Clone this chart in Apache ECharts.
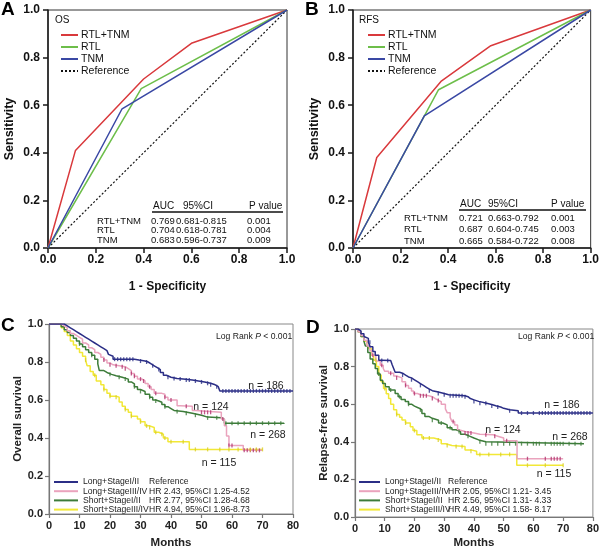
<!DOCTYPE html>
<html>
<head>
<meta charset="utf-8">
<script src="https://cdn.jsdelivr.net/npm/echarts@6/dist/echarts.min.js"></script>
<style>
html,body{margin:0;padding:0;background:#fff;}
#chart{width:602px;height:550px;}
</style>
</head>
<body>
<div id="chart"></div>
<script>
// ---------------- ROC data ----------------
const rocNames = ['RTL+TNM', 'RTL', 'TNM', 'Reference'];
const rocA_RTLTNM = [[0,0],[0.115,0.41],[0.40,0.71],[0.60,0.86],[1,1]];
const rocA_RTL    = [[0,0],[0.39,0.67],[1,1]];
const rocA_TNM    = [[0,0],[0.31,0.585],[1,1]];
const rocB_RTLTNM = [[0,0],[0.10,0.38],[0.37,0.70],[0.58,0.85],[1,1]];
const rocB_RTL    = [[0,0],[0.36,0.665],[1,1]];
const rocB_TNM    = [[0,0],[0.30,0.555],[1,1]];
const rocRef      = [[0,0],[1,1]];

const tblHeader = ['AUC', '95%CI', 'P value'];
const tblRows   = ['RTL+TNM', 'RTL', 'TNM'];
const aucA = ['0.769', '0.704', '0.683'];
const ciA  = ['0.681-0.815', '0.618-0.781', '0.596-0.737'];
const pA   = ['0.001', '0.004', '0.009'];
const aucB = ['0.721', '0.687', '0.665'];
const ciB  = ['0.663-0.792', '0.604-0.745', '0.584-0.722'];
const pB   = ['0.001', '0.003', '0.008'];

// ---------------- KM data ----------------
const kmNames = ['Long+StageI/II', 'Long+StageIII/IV', 'Short+StageI/II', 'Short+StageIII/IV'];
const hrC = ['Reference', 'HR 2.43, 95%CI 1.25-4.52', 'HR 2.77, 95%CI 1.28-4.68', 'HR 4.94, 95%CI 1.96-8.73'];
const hrD = ['Reference', 'HR 2.05, 95%CI 1.21- 3.45', 'HR 2.56, 95%CI 1.31- 4.33', 'HR 4.49, 95%CI 1.58- 8.17'];
const nLabels = ['n = 186', 'n = 124', 'n = 268', 'n = 115'];

const kmC_LongI = [[0,1],[4,1],[5,0.99],[6,0.98],[7,0.97],[8,0.96],[9,0.95],[10,0.94],[11,0.93],[12,0.92],[13,0.91],[14,0.90],[15,0.89],[16,0.88],[17,0.87],[18,0.86],[19,0.85],[19.5,0.84],[20,0.83],[21,0.815],[28,0.81],[29.5,0.805],[31.5,0.80],[32.5,0.79],[33.5,0.78],[34.5,0.77],[35.5,0.76],[36.5,0.745],[37.5,0.73],[38.5,0.72],[40,0.713],[42,0.71],[44,0.705],[47,0.70],[49,0.695],[51,0.688],[53,0.68],[54.5,0.67],[55.5,0.66],[56,0.648],[80,0.648]];
const kmC_LongIII = [[0,1],[3,1],[4,0.99],[5,0.98],[6,0.965],[7,0.95],[8,0.94],[9,0.93],[10,0.92],[11,0.90],[12,0.89],[13,0.875],[14,0.865],[15,0.85],[16,0.84],[17,0.825],[18,0.81],[19,0.795],[20,0.785],[21,0.78],[23,0.775],[25,0.765],[26,0.755],[27,0.74],[28,0.725],[29,0.71],[30.5,0.70],[31.5,0.687],[32.5,0.67],[33.5,0.655],[34.5,0.635],[37,0.63],[38,0.615],[39,0.60],[42,0.57],[43,0.567],[47,0.545],[48,0.535],[56.5,0.50],[57.5,0.465],[58.2,0.41],[59,0.36],[63.7,0.335],[70,0.335]];
const kmC_ShortI = [[0,1],[3,1],[4,0.985],[5,0.97],[6,0.955],[7,0.94],[8,0.925],[9,0.91],[10,0.895],[11,0.88],[12,0.865],[13,0.85],[14,0.835],[15,0.815],[16,0.79],[16.5,0.755],[18,0.745],[19,0.735],[20.5,0.728],[22,0.72],[24,0.71],[26,0.695],[27,0.685],[28,0.67],[29,0.655],[30,0.645],[31.5,0.63],[33,0.615],[34,0.60],[35,0.595],[36,0.588],[37,0.576],[38,0.565],[39,0.555],[40,0.545],[41,0.54],[44,0.53],[47,0.52],[50,0.51],[52,0.506],[56.5,0.498],[57.5,0.478],[77,0.474]];
const kmC_ShortIII = [[0,1],[3,1],[4,0.98],[5,0.96],[6,0.94],[7,0.91],[8,0.89],[9,0.87],[10,0.85],[11,0.83],[12,0.81],[12.5,0.78],[13.5,0.75],[14.5,0.73],[15.5,0.70],[17,0.68],[18,0.655],[19,0.635],[20,0.62],[22,0.615],[23,0.59],[24,0.567],[25,0.55],[26,0.535],[27,0.515],[29,0.50],[30,0.485],[31.5,0.464],[33,0.455],[34.5,0.43],[36,0.42],[37.5,0.40],[39,0.38],[46,0.34],[70,0.34]];

const kmD_LongI = [[0,1],[1,0.99],[2,0.975],[3,0.96],[3.5,0.95],[4.5,0.93],[5.1,0.905],[6,0.88],[6.8,0.86],[8,0.834],[9,0.832],[12,0.83],[12.5,0.81],[13,0.79],[13.5,0.77],[15,0.765],[16,0.755],[17,0.745],[18,0.74],[19,0.73],[20,0.72],[21,0.71],[22,0.70],[23,0.69],[24,0.68],[25,0.672],[26,0.665],[28,0.657],[30,0.65],[31.5,0.645],[37,0.64],[38,0.63],[38.8,0.623],[40,0.615],[41.6,0.605],[44.3,0.598],[46,0.59],[47.6,0.585],[49,0.578],[50,0.57],[52,0.565],[54.9,0.553],[80,0.553]];
const kmD_LongIII = [[0,1],[1,0.985],[2,0.965],[3,0.94],[4,0.91],[5,0.885],[5.7,0.86],[7,0.83],[8.5,0.807],[9.5,0.79],[10,0.775],[11.3,0.764],[13,0.75],[14,0.74],[15.8,0.72],[17,0.70],[18,0.685],[19,0.67],[19.7,0.657],[21,0.65],[22,0.645],[24.8,0.64],[26,0.63],[27,0.62],[28.1,0.614],[29,0.60],[30.4,0.575],[31,0.555],[32,0.53],[32.6,0.508],[33.5,0.49],[34.5,0.465],[35,0.455],[37,0.447],[40,0.44],[42,0.437],[46.5,0.43],[48,0.42],[50,0.405],[54.5,0.31],[70,0.31]];
const kmD_ShortI = [[0,1],[1,0.985],[2,0.96],[3,0.935],[3.5,0.91],[4.3,0.875],[5.1,0.84],[6,0.815],[6.8,0.79],[7.6,0.76],[8.5,0.728],[9.3,0.71],[10.2,0.693],[11.5,0.675],[13.5,0.657],[14.5,0.64],[15.5,0.625],[16.9,0.614],[18,0.60],[19,0.59],[20,0.58],[21.4,0.57],[22.5,0.55],[23.5,0.535],[24.8,0.525],[26,0.515],[28.1,0.50],[29.5,0.49],[31,0.475],[32.6,0.464],[34,0.455],[35.5,0.44],[37,0.43],[38.5,0.42],[40,0.41],[41.6,0.40],[44,0.39],[77,0.39]];
const kmD_ShortIII = [[0,1],[1,0.985],[2,0.96],[3,0.935],[4,0.91],[4.6,0.896],[5.5,0.86],[6.3,0.834],[7.2,0.80],[8,0.755],[8.8,0.72],[9.6,0.684],[10.5,0.655],[11.3,0.63],[12,0.60],[13,0.57],[14,0.545],[15,0.53],[15.8,0.516],[17,0.50],[18.6,0.48],[19.5,0.46],[20.8,0.437],[22.5,0.42],[26.5,0.41],[29,0.39],[30.5,0.38],[32.6,0.375],[37,0.357],[39,0.35],[40.9,0.333],[54.4,0.275],[70,0.275]];

// censoring times (months)
const censC_LongI = [21.5,22.5,23.5,24.5,25.5,26.5,27.5,30,32,34,36,39,41,43,45,46,48,50,52,53,55,57,58,59,60,61,62,63,64,65,66,67,68,69,70,71,72,73,74,75,76,77,78,79];
const censC_LongIII = [18,20,22,24,25,27,28,30,31,33,35,38,40,45,50,51,52,53,57,59,60,64,65,66,67,68,69];
const censC_ShortI = [10,14,20,23,25,28,30,33,35,38,42,45,48,52,55,58,60,62,64,66,68,70,72,74,76];
const censC_ShortIII = [12,15,18,20,22,25,27,30,32,33,35,37,38,40,44,48,52,56,59,62,66,68,70];
const censD_LongI = [5,9,11,16,19,22,25,28,30,32,33,34,35,36,37,40,42,44,46,48,52,56,58,60,62,63,64,65,66,67,68,69,70,71,72,73,74,75,76,77,78,79];
const censD_LongIII = [6,9,12,14,17,20,22,23,24,26,28,33,37,38,39,44,47,51,58,64,66,67,68,69];
const censD_ShortI = [8,12,15,18,22,26,29,32,35,38,42,44,46,48,50,52,54,56,58,60,61,62,64,66,67,68,69,70,72,74,76];
const censD_ShortIII = [7,10,14,17,20,23,25,28,31,34,36,39,42,45,49,52,58,64,70];

// ---------------- styling ----------------
const FONT = '"Liberation Sans", Arial, sans-serif';
const rocColors = ['#d9393c', '#6dbe4a', '#3a48a4', '#111111'];
const kmColors = ['#2b2e86', '#eaa3bd', '#3d7c3a', '#f2e836'];
const kmMarkColors = ['#2b2e86', '#b0306b', '#3d7c3a', '#d9cf22'];

function stepAt(curve, t) {
  let v = curve[0][1];
  for (const p of curve) { if (p[0] <= t) v = p[1]; else break; }
  return v;
}

function rocAxisX(gi) {
  return {
    type: 'value', gridIndex: gi, min: 0, max: 1, interval: 0.2,
    name: '1 - Specificity', nameLocation: 'middle', nameGap: 33,
    nameTextStyle: { fontFamily: FONT, fontWeight: 'bold', fontSize: 12, color: '#111' },
    axisLine: { lineStyle: { color: '#1a1a1a', width: 1.5 } },
    axisTick: { show: true, inside: false, length: 5, lineStyle: { color: '#1a1a1a', width: 1.5 } },
    axisLabel: { margin: 6, fontFamily: FONT, fontWeight: 'bold', fontSize: 12, color: '#111', formatter: v => v.toFixed(1) },
    splitLine: { show: false }
  };
}
function rocAxisY(gi) {
  return {
    type: 'value', gridIndex: gi, min: 0, max: 1, interval: 0.2,
    name: 'Sensitivity', nameLocation: 'middle', nameGap: 32, nameRotate: 90,
    nameTextStyle: { fontFamily: FONT, fontWeight: 'bold', fontSize: 12.5, color: '#111' },
    axisLine: { lineStyle: { color: '#1a1a1a', width: 1.5 } },
    axisTick: { show: true, inside: false, length: 5, lineStyle: { color: '#1a1a1a', width: 1.5 } },
    axisLabel: { margin: 8, fontFamily: FONT, fontWeight: 'bold', fontSize: 12, color: '#111', formatter: v => v.toFixed(1) },
    splitLine: { show: false }
  };
}
function kmAxisX(gi, gap) {
  return {
    type: 'value', gridIndex: gi, min: 0, max: 80, interval: 10,
    name: 'Months', nameLocation: 'middle', nameGap: gap,
    nameTextStyle: { fontFamily: FONT, fontWeight: 'bold', fontSize: 11.5, color: '#222' },
    axisLine: { lineStyle: { color: '#777', width: 1.2 } },
    axisTick: { show: true, inside: false, length: 4, lineStyle: { color: '#777', width: 1.2 } },
    axisLabel: { margin: 6, fontFamily: FONT, fontWeight: 'bold', fontSize: 11, color: '#222' },
    splitLine: { show: false }
  };
}
function kmAxisY(gi, name, gap) {
  return {
    type: 'value', gridIndex: gi, min: 0, max: 1, interval: 0.2,
    name: name, nameLocation: 'middle', nameGap: gap, nameRotate: 90,
    nameTextStyle: { fontFamily: FONT, fontWeight: 'bold', fontSize: 11.5, color: '#222' },
    axisLine: { lineStyle: { color: '#777', width: 1.2 } },
    axisTick: { show: true, inside: false, length: 4, lineStyle: { color: '#777', width: 1.2 } },
    axisLabel: { margin: 6, fontFamily: FONT, fontWeight: 'bold', fontSize: 11, color: '#222', formatter: v => v.toFixed(1) },
    splitLine: { show: false }
  };
}

const series = [];
function addRoc(gi, curves) {
  curves.forEach((d, i) => {
    series.push({
      type: 'line', name: rocNames[i], xAxisIndex: gi, yAxisIndex: gi, data: d,
      symbol: 'none', animation: false, z: i === 3 ? 2 : 3,
      lineStyle: { color: rocColors[i], width: i === 3 ? 1.2 : 1.5, type: i === 3 ? [2, 2] : 'solid' },
      itemStyle: { color: rocColors[i] }
    });
  });
}
addRoc(0, [rocA_RTLTNM, rocA_RTL, rocA_TNM, rocRef]);
addRoc(1, [rocB_RTLTNM, rocB_RTL, rocB_TNM, rocRef]);

function addKm(gi, curves, cens) {
  curves.forEach((d, i) => {
    series.push({
      type: 'line', name: kmNames[i], xAxisIndex: gi, yAxisIndex: gi, data: d,
      step: 'end', symbol: 'none', animation: false,
      lineStyle: { color: kmColors[i], width: 1.5 },
      itemStyle: { color: kmMarkColors[i] },
      z: 3 + (3 - i)
    });
    series.push({
      type: 'scatter', name: kmNames[i] + ' censored', xAxisIndex: gi, yAxisIndex: gi,
      data: cens[i].map(t => [t, stepAt(d, t)]),
      symbol: 'rect', symbolSize: [1.3, 4], animation: false, silent: true,
      itemStyle: { color: kmMarkColors[i] }, z: 8
    });
  });
}
addKm(2, [kmC_LongI, kmC_LongIII, kmC_ShortI, kmC_ShortIII], [censC_LongI, censC_LongIII, censC_ShortI, censC_ShortIII]);
addKm(3, [kmD_LongI, kmD_LongIII, kmD_ShortI, kmD_ShortIII], [censD_LongI, censD_LongIII, censD_ShortI, censD_ShortIII]);

function rocLegend(left) {
  return {
    orient: 'vertical', left: left, top: 29, padding: 0, itemWidth: 17, itemHeight: 12, itemGap: 0,
    data: rocNames, selectedMode: false,
    itemStyle: { opacity: 0 },
    textStyle: { fontFamily: FONT, fontSize: 10.5, color: '#111', lineHeight: 12, padding: [0, 0, 0, -2] }
  };
}
function kmLegend(left, top, iw, colW, hr) {
  return {
    orient: 'vertical', left: left, top: top, padding: 0, itemWidth: iw, itemHeight: 9, itemGap: 0.2,
    data: kmNames, selectedMode: false,
    itemStyle: { opacity: 0 },
    formatter: name => '{a|' + name + '}{b|' + hr[kmNames.indexOf(name)] + '}',
    textStyle: {
      fontFamily: FONT, fontSize: 8.6, color: '#222', lineHeight: 9,
      rich: {
        a: { fontFamily: FONT, fontSize: 8.6, color: '#222', width: colW, lineHeight: 9 },
        b: { fontFamily: FONT, fontSize: 8.6, color: '#222', lineHeight: 9 }
      }
    }
  };
}

function txt(x, y, t, size, opts) {
  return { type: 'text', x: x, y: y, style: Object.assign({ text: t, fontSize: size, fontFamily: FONT, fill: '#111', verticalAlign: 'middle', textVerticalAlign: 'middle' }, opts || {}) };
}

// AUC tables as text
function tableGraphics(hcols, cols, yHead, yUnder, rows, auc, ci, p, underX1) {
  const g = [];
  g.push(txt(hcols[0], yHead, tblHeader[0], 10));
  g.push(txt(hcols[1], yHead, tblHeader[1], 10));
  g.push(txt(hcols[2], yHead, tblHeader[2], 10));
  g.push({ type: 'line', shape: { x1: hcols[0] - 1, y1: yUnder, x2: underX1, y2: yUnder }, style: { stroke: '#111', lineWidth: 1.3 } });
  tblRows.forEach((r, i) => {
    g.push(txt(cols[0], rows[i], r, 9.5));
    g.push(txt(cols[1], rows[i], auc[i], 9.5));
    g.push(txt(cols[2], rows[i], ci[i], 9.5));
    g.push(txt(cols[3], rows[i], p[i], 9.5));
  });
  return g;
}

const letter = (x, y, t) => ({ type: 'text', x: x, y: y, style: { text: t, fontSize: 19, fontWeight: 'bold', fontFamily: FONT, fill: '#000' } });
const small = (x, y, t) => txt(x, y, t, 10.5, { fill: '#222', align: 'center', textAlign: 'center' });
const logRank = (x, y) => ({
  type: 'text', x: x, y: y,
  style: {
    text: '{n|Log Rank }{i|P}{n| < 0.001}', verticalAlign: 'middle', textVerticalAlign: 'middle',
    rich: { n: { fontSize: 8.6, fontFamily: FONT, fill: '#222', color: '#222' }, i: { fontSize: 8.6, fontStyle: 'italic', fontFamily: FONT, fill: '#222', color: '#222' } }
  }
});

const graphics = [].concat(
  [letter(1, 0, 'A'), letter(305, 0, 'B'), letter(1, 316, 'C'), letter(306, 318, 'D')],
  [txt(55, 20, 'OS', 10), txt(359, 20, 'RFS', 10)],
  tableGraphics([153, 183, 249], [97, 151, 176, 247], 206, 212, [221, 230.5, 240], aucA, ciA, pA, 283),
  tableGraphics([460, 488, 551], [404, 459, 488, 551], 204, 210, [218, 229.5, 241], aucB, ciB, pB, 586),
  [logRank(216, 337), logRank(518, 337)],
  [small(266, 386, nLabels[0]), small(211, 407, nLabels[1]), small(268, 435, nLabels[2]), small(219, 463, nLabels[3])],
  [small(562, 405, nLabels[0]), small(503, 430, nLabels[1]), small(570, 437, nLabels[2]), small(554, 474, nLabels[3])]
);

const option = {
  backgroundColor: '#fff',
  animation: false,
  grid: [
    { left: 48, top: 10, width: 239, height: 238, show: true, borderColor: '#333', borderWidth: 1 },
    { left: 353, top: 10, width: 238, height: 238, show: true, borderColor: '#333', borderWidth: 1 },
    { left: 49, top: 324, width: 244, height: 194, show: true, borderColor: '#888', borderWidth: 1 },
    { left: 355, top: 329, width: 238, height: 189, show: true, borderColor: '#888', borderWidth: 1 }
  ],
  xAxis: [rocAxisX(0), rocAxisX(1), kmAxisX(2, 23), kmAxisX(3, 20)],
  yAxis: [rocAxisY(0), rocAxisY(1), kmAxisY(2, 'Overall survival', 25), kmAxisY(3, 'Relapse-free survival', 17)],
  legend: [
    rocLegend(60),
    rocLegend(367),
    kmLegend(53, 477.5, 24, 66, hrC),
    kmLegend(358, 477.5, 21, 63, hrD)
  ],
  series: series,
  graphic: graphics
};

const chart = echarts.init(document.getElementById('chart'), null, { renderer: 'canvas' });
chart.setOption(option);
</script>
</body>
</html>
